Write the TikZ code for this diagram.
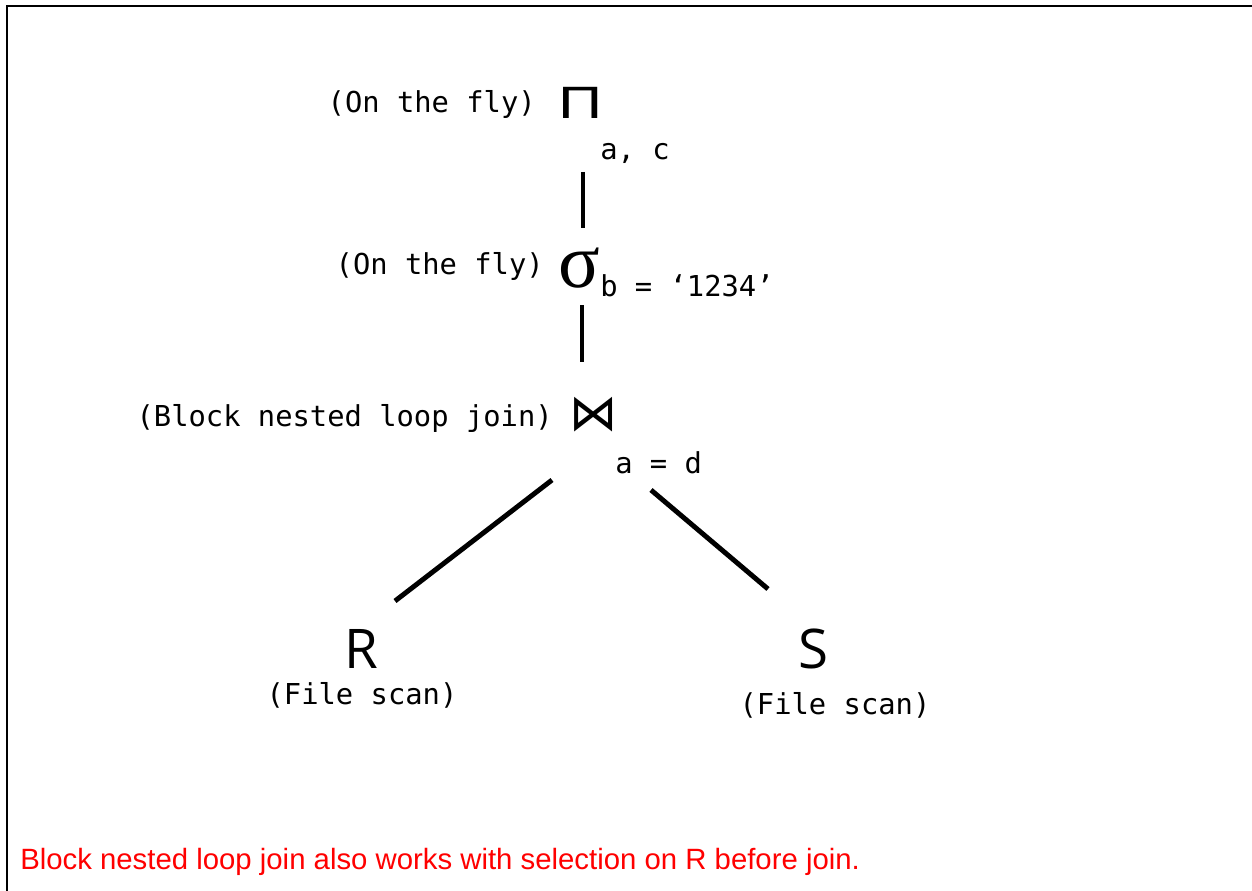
\documentclass[tikz,border=0pt]{standalone}
\usepackage{fontspec}
\setmainfont{Liberation Sans}
\newfontfamily\monof{DejaVu Sans Mono}
\newfontfamily\symf{DejaVu Sans}
\newfontfamily\serf{Liberation Serif}
\newfontfamily\opsans{Open Sans}
\begin{document}
\begin{tikzpicture}[x=0.75pt,y=-0.75pt,
  lbl/.style={font=\monof\fontsize{21.6}{25}\selectfont, inner sep=0pt},
  big/.style={inner sep=0pt},
  edge/.style={line width=3.7pt},
  frame/.style={line width=2.2pt}]
\useasboundingbox (0,0) rectangle (1252,891);
\fill[white] (0,0) rectangle (1252,891);
% frame
\coordinate (fr1) at (1252,6);
\coordinate (fr2) at (7,6);
\coordinate (fr3) at (7,891);
\draw[frame] (fr1) -- (fr2) -- (fr3);
% projection
\node[lbl, anchor=east] (otf1) at (536,104) {(On the fly)};
\node[big, anchor=west] (pi) at (558,103) {\fontsize{34}{34}\selectfont\scalebox{1.35}[1]{Π}};
\node[lbl, anchor=west] (ac) at (600,153) {a, c};
% selection
\node[lbl, anchor=east] (otf2) at (544,266) {(On the fly)};
\node[big, anchor=west] (sigma) at (558,268) {\serf\fontsize{58}{58}\selectfont σ};
\node[lbl, anchor=west] (cond) at (600,286) {b = ‘1234’};
% join
\node[lbl, anchor=east] (bnl) at (553,418) {(Block nested loop join)};
\node[big, anchor=west] (join) at (569,415) {\symf\fontsize{38}{38}\selectfont\scalebox{0.95}[1]{⋈}};
\node[lbl, anchor=west] (ad) at (615,463) {a = d};
% relations
\node[big] (R) at (361,649) {\opsans\fontsize{41}{41}\selectfont R};
\node[lbl] (fsR) at (362,695) {(File scan)};
\node[big] (S) at (813,649) {\opsans\fontsize{41}{41}\selectfont S};
\node[lbl] (fsS) at (835,705) {(File scan)};
% connectors
\coordinate (e1a) at (583,172);
\coordinate (e1b) at (583,228);
\coordinate (e2a) at (582,305);
\coordinate (e2b) at (582,362);
\coordinate (e3a) at (552,480);
\coordinate (e3b) at (395,601);
\coordinate (e4a) at (651,490);
\coordinate (e4b) at (768,589);
\draw[edge] (e1a) -- (e1b);
\draw[edge] (e2a) -- (e2b);
\draw[edge] (e3a) -- (e3b);
\draw[edge] (e4a) -- (e4b);
% note
\node[anchor=west, inner sep=0pt, text=red, font=\fontsize{22}{26}\selectfont] (note) at (20,862) {Block nested loop join also works with selection on R before join.};
\end{tikzpicture}
\end{document}
